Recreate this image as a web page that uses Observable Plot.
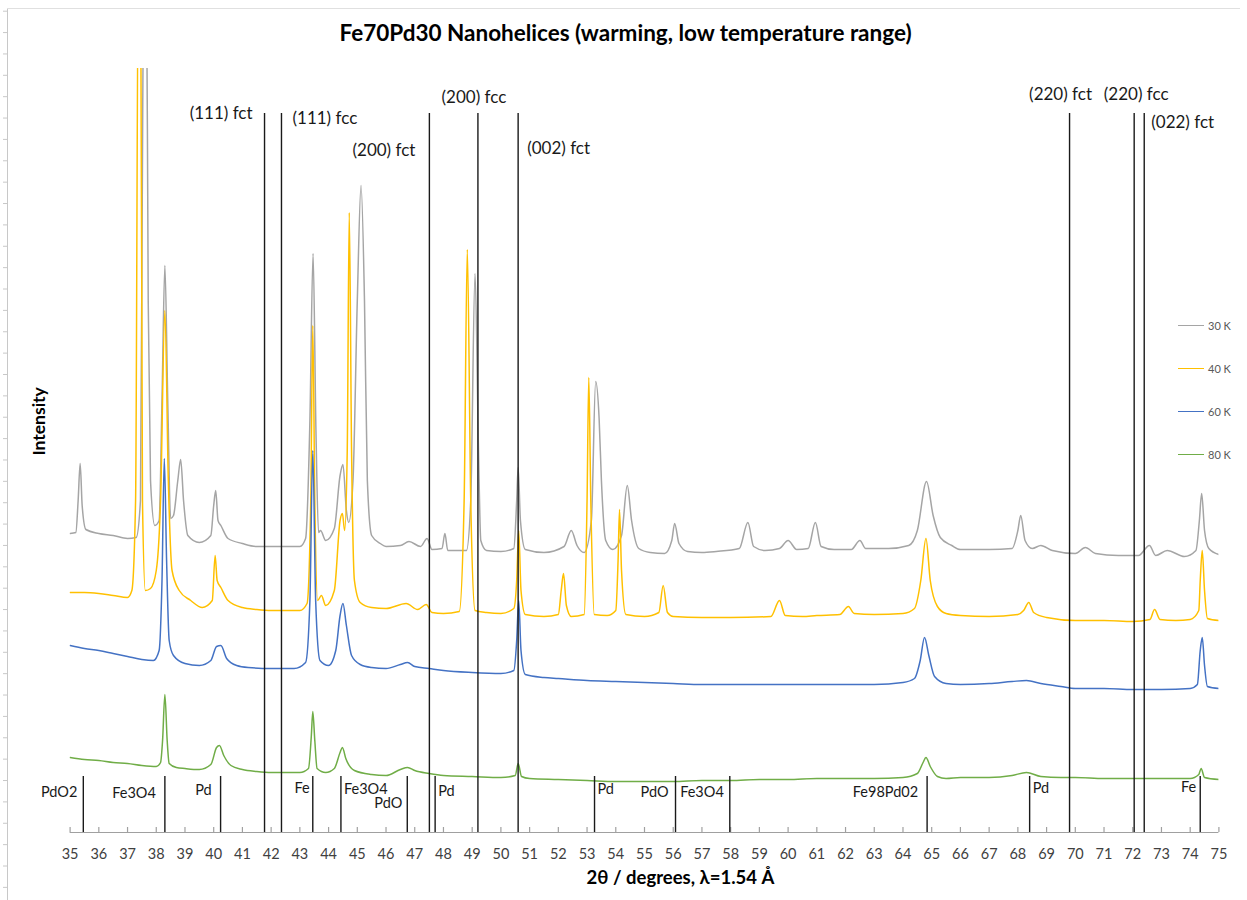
<!DOCTYPE html>
<html>
<head>
<meta charset="utf-8">
<script src="https://cdn.jsdelivr.net/npm/d3@7"></script>
<script src="https://cdn.jsdelivr.net/npm/@observablehq/plot@0.6"></script>
<style>
  body { margin: 0; background: #fff; }
  #chart { position: relative; width: 1247px; height: 900px; font-family: Lato, "Open Sans", sans-serif; }
  .legend { position: absolute; left: 1178px; top: 0; }
  .entry { position: absolute; left: 0; display: flex; align-items: center; white-space: nowrap; font-size: 11px; color: #595959; }
  .entry span.sw { display: inline-block; width: 26px; height: 0; border-top: 1.5px solid; margin-right: 4px; }
</style>
</head>
<body>
<div id="chart"></div>
<script>
// ---------- data ----------
const title = "Fe70Pd30 Nanohelices (warming, low temperature range)";
const xTitle = "2θ / degrees, λ=1.54 Å";
const yTitle = "Intensity";
const seriesNames = ["30 K", "40 K", "60 K", "80 K"];
const seriesColors = ["#A5A5A5", "#FFC000", "#4472C4", "#70AD47"];
const xTicks = [35,36,37,38,39,40,41,42,43,44,45,46,47,48,49,50,51,52,53,54,55,56,57,58,59,60,61,62,63,64,65,66,67,68,69,70,71,72,73,74,75];

// reference reflections (full height lines)
const refPeaks = [41.77, 42.36, 47.51, 49.2, 50.6, 69.8, 72.05, 72.4];
const refLabels = ["(111) fct", "(111) fcc", "(200) fct", "(200) fcc", "(002) fct", "(220) fct", "(220) fcc", "(022) fct"];

// phase markers (short lines at bottom)
const phasePos = [35.46, 38.30, 40.24, 43.45, 44.43, 46.74, 47.71, 53.26, 56.08, 57.97, 64.84, 68.41, 74.35];
const phaseLabels = ["PdO2", "Fe3O4", "Pd", "Fe", "Fe3O4", "PdO", "Pd", "Pd", "PdO", "Fe3O4", "Fe98Pd02", "Pd", "Fe"];

// traces: [2θ, intensity (a.u., offset)]
const k30 = [[35,299],[35.2,300],[35.28,332],[35.35,369],[35.42,327],[35.55,303],[36,299],[36.5,297],[37,294],[37.3,295],[37.45,332],[37.53,732],[37.58,900],[37.65,900],[37.72,532],[37.8,352],[37.95,307],[38.1,312],[38.2,432],[38.3,567],[38.4,432],[38.5,314],[38.6,317],[38.75,352],[38.85,373],[38.95,332],[39.1,297],[39.5,290],[39.9,297],[40.0,327],[40.07,342],[40.15,312],[40.25,307],[40.5,294],[41,289],[41.5,286],[42,286],[43,286],[43.2,294],[43.35,412],[43.46,579],[43.56,402],[43.65,300],[43.72,302],[43.9,292],[44.2,304],[44.4,357],[44.5,368],[44.62,322],[44.7,310],[44.85,352],[45.0,532],[45.13,647],[45.25,532],[45.35,352],[45.5,297],[45.8,289],[46,286],[46.5,287],[46.8,291],[47.2,286],[47.43,294],[47.6,283],[47.95,284],[48.05,299],[48.15,282],[48.8,282],[48.95,332],[49.1,559],[49.22,382],[49.3,292],[49.5,282],[50,281],[50.45,284],[50.55,332],[50.6,365],[50.68,312],[50.85,283],[51.5,280],[52.2,286],[52.45,302],[52.65,287],[52.9,280],[53.15,312],[53.3,451],[53.42,414],[53.5,352],[53.65,292],[53.9,283],[54.2,297],[54.4,347],[54.55,312],[54.8,284],[55.2,280],[55.7,279],[55.95,292],[56.05,309],[56.2,289],[56.5,281],[57,280],[57.5,281],[58.3,284],[58.6,310],[58.8,286],[59.2,282],[59.7,284],[60.0,292],[60.3,283],[60.7,284],[60.95,310],[61.15,286],[61.6,283],[62.2,283],[62.5,292],[62.7,284],[63.5,284],[64.2,287],[64.5,302],[64.82,351],[65.05,317],[65.3,295],[65.7,287],[66,283],[67,283],[67.8,284],[68.0,302],[68.1,317],[68.25,292],[68.5,284],[68.8,287],[69.2,282],[70,279],[70.35,285],[70.7,279],[71.5,277],[72.2,277],[72.58,287],[72.8,277],[73.2,282],[73.8,276],[74.2,282],[74.32,312],[74.4,339],[74.5,302],[74.65,284],[75,278]];

const k40 = [[35,240],[35.5,240],[36,239],[36.5,237],[37,235],[37.15,242],[37.28,332],[37.38,900],[37.45,900],[37.52,332],[37.62,242],[37.8,244],[38.0,262],[38.15,332],[38.3,522],[38.42,352],[38.55,262],[38.8,242],[39.2,232],[39.6,225],[39.95,232],[40.05,277],[40.12,252],[40.25,245],[40.5,232],[41,225],[41.5,223],[42,222],[43,222],[43.25,229],[43.38,332],[43.45,507],[43.52,332],[43.62,232],[43.75,237],[43.9,227],[44.2,242],[44.4,312],[44.48,319],[44.56,302],[44.65,382],[44.72,620],[44.8,382],[44.9,252],[45.1,230],[45.5,225],[46,224],[46.7,229],[47.1,223],[47.4,228],[47.6,220],[48,219],[48.55,221],[48.72,332],[48.83,583],[48.95,332],[49.1,222],[49.5,220],[50,219],[50.45,224],[50.55,252],[50.62,302],[50.7,242],[50.85,218],[51.5,216],[52.0,218],[52.1,242],[52.18,259],[52.28,227],[52.45,216],[52.9,218],[53.0,332],[53.06,455],[53.13,332],[53.25,218],[53.7,217],[54.0,222],[54.08,272],[54.13,323],[54.2,262],[54.35,218],[55,216],[55.5,220],[55.65,247],[55.8,220],[56,216],[57,215],[58,215],[59.4,216],[59.7,232],[59.9,217],[60.5,216],[61,217],[61.8,218],[62.1,226],[62.3,219],[63,218],[64,219],[64.4,224],[64.62,252],[64.8,294],[64.95,252],[65.2,226],[65.5,219],[66,217],[67,216],[68.0,218],[68.2,222],[68.38,230],[68.55,220],[69,215],[70,212],[71,212],[72,211],[72.6,213],[72.76,223],[72.95,213],[73.5,212],[74,213],[74.3,222],[74.35,252],[74.42,282],[74.5,242],[74.6,214],[75,212]];

const k60 = [[35,187],[35.5,184],[36,182],[36.5,179],[37,176],[37.5,173],[37.9,172],[38.1,182],[38.2,252],[38.28,374],[38.36,272],[38.45,192],[38.6,177],[39.0,169],[39.5,167],[39.9,172],[40.1,186],[40.25,187],[40.45,174],[40.8,167],[41.2,165],[42,164],[42.8,164],[43.2,170],[43.35,232],[43.45,382],[43.55,232],[43.7,172],[44.0,167],[44.25,182],[44.4,217],[44.5,229],[44.62,207],[44.8,177],[45.1,168],[45.5,165],[46,164],[46.5,168],[46.75,170],[47.0,166],[47.5,164],[48,162],[49,160],[50,159],[50.45,162],[50.55,192],[50.62,232],[50.7,182],[50.85,158],[51.5,155],[52,154],[53,152],[54,151],[55,150],[56,149],[57,148],[58,148],[59,148],[60,148],[61,148],[62,148],[63,148],[64,150],[64.4,154],[64.6,172],[64.75,195],[64.9,177],[65.1,156],[65.5,149],[66,148],[67,149],[67.8,151],[68.3,152],[68.8,149],[69.5,146],[70,144],[71,144],[72,143],[73,143],[74,144],[74.25,148],[74.35,182],[74.42,195],[74.5,167],[74.6,146],[75,144]];

const k80 = [[35,75],[35.5,73],[36,72],[36.5,70],[37,69],[37.5,67],[38.0,66],[38.15,70],[38.22,92],[38.3,138],[38.38,92],[38.45,69],[38.7,65],[39.0,64],[39.5,63],[39.9,68],[40.1,85],[40.2,87],[40.35,77],[40.6,67],[41,63],[41.5,61],[42,60],[42.5,60],[43,60],[43.3,64],[43.4,97],[43.45,121],[43.52,92],[43.6,64],[43.9,60],[44.2,64],[44.4,80],[44.48,85],[44.6,74],[44.9,62],[45.5,58],[46,57],[46.5,63],[46.75,65],[47.0,62],[47.5,59],[48,57],[49,56],[50,55],[50.5,57],[50.6,69],[50.72,56],[51,54],[52,53],[53,52],[54,51],[55,51],[56,51],[57,52],[58,52],[59,53],[60,53],[61,54],[62,54],[63,54],[64,55],[64.5,59],[64.7,70],[64.8,75],[64.95,66],[65.2,56],[65.5,54],[66,55],[67,55],[67.8,57],[68.3,60],[68.8,56],[69.5,55],[70,55],[71,54],[72,54],[73,54],[74,54],[74.3,58],[74.38,64],[74.5,55],[75,53]];

// ---------- layout (pixels) ----------
const W = 1247, H = 900;
const M = {left: 69.6, right: 28.6, top: 68, bottom: 68};
const refLayout = [
  {anchor: "end", dx: -12, y: 113},
  {anchor: "start", dx: 11, y: 118},
  {anchor: "end", dx: -14, y: 150},
  {anchor: "middle", dx: -4, y: 97},
  {anchor: "start", dx: 9, y: 148},
  {anchor: "middle", dx: -9, y: 94},
  {anchor: "middle", dx: 2, y: 94},
  {anchor: "start", dx: 7, y: 122}
];
const phaseLayout = [
  {anchor: "end", dx: -6, y: 792},
  {anchor: "end", dx: -9, y: 793},
  {anchor: "end", dx: -9, y: 790},
  {anchor: "end", dx: -3, y: 788},
  {anchor: "start", dx: 3, y: 789},
  {anchor: "end", dx: -5, y: 803},
  {anchor: "start", dx: 3, y: 791},
  {anchor: "start", dx: 3, y: 789},
  {anchor: "end", dx: -7, y: 792},
  {anchor: "end", dx: -6, y: 792},
  {anchor: "end", dx: -9, y: 792},
  {anchor: "start", dx: 3, y: 788},
  {anchor: "end", dx: -4, y: 787}
];

const traces = [k30, k40, k60, k80];
const rows = seriesNames.flatMap((s, i) => traces[i].map(([t, v]) => ({t, v, s})));

// decorative outer axis (left line with ticks, top line), in scale units (1 unit = 1 px vertically)
const pxPerDeg = (W - M.left - M.right) / 40;
const xOuter = 35 - (M.left - 7) / pxPerDeg;
const xOuterTick = 35 - (M.left - 3) / pxPerDeg;
const xOuterRight = 75 + (M.right - 7) / pxPerDeg;
const yTopLine = (H - M.bottom) - 8;
const leftTicks = d3.range(0, 42).map(k => (H - M.bottom) - (10.7 + 21.37 * k));

const font = "Lato, 'Open Sans', sans-serif";
const cx = M.left + (W - M.left - M.right) / 2;
const cy = M.top + (H - M.top - M.bottom) / 2;

const marks = [
  // decorative outer frame
  Plot.ruleX([xOuter], {y1: yTopLine, y2: -(M.bottom), stroke: "#c8c8c8", strokeWidth: 1}),
  Plot.ruleY(leftTicks, {x1: xOuterTick, x2: xOuter, stroke: "#c8c8c8", strokeWidth: 1}),
  Plot.ruleY([yTopLine], {x1: xOuter, x2: xOuterRight, stroke: "#e0e0e0", strokeWidth: 1}),
  // x axis line and inward ticks
  Plot.ruleY([0], {stroke: "#a0a0a0", strokeWidth: 1.2}),
  Plot.ruleX(xTicks, {insetTop: (H - M.top - M.bottom) - 5, stroke: "#a0a0a0", strokeWidth: 1.2}),
  // traces
  Plot.line(rows, {x: "t", y: "v", z: "s", stroke: "s", strokeWidth: 1.5, curve: "monotone-x", clip: true}),
  // reference lines
  Plot.ruleX(refPeaks, {insetTop: 113 - M.top, stroke: "#1a1a1a", strokeWidth: 1.4}),
  // phase markers
  Plot.ruleX(phasePos, {insetTop: 776 - M.top, stroke: "#1a1a1a", strokeWidth: 1.4}),
  // reference labels
  ...refLabels.map((lab, i) => Plot.text([lab], {
    x: refPeaks[i], frameAnchor: "top", dy: refLayout[i].y - M.top, dx: refLayout[i].dx,
    textAnchor: refLayout[i].anchor, lineAnchor: "middle", fontSize: 17, fill: "#1a1a1a", fontFamily: font
  })),
  // phase labels
  ...phaseLabels.map((lab, i) => Plot.text([lab], {
    x: phasePos[i], frameAnchor: "top", dy: phaseLayout[i].y - M.top, dx: phaseLayout[i].dx,
    textAnchor: phaseLayout[i].anchor, lineAnchor: "middle", fontSize: 14.5, fill: "#1a1a1a", fontFamily: font
  })),
  // titles
  Plot.text([title], {frameAnchor: "top", dx: 625 - cx, dy: 33 - M.top, lineAnchor: "middle",
    fontSize: 22.5, fontWeight: "bold", fill: "#000", fontFamily: font}),
  Plot.text([xTitle], {frameAnchor: "bottom", dx: 680 - cx, dy: 878 - (H - M.bottom), lineAnchor: "middle",
    fontSize: 18.5, fontWeight: "bold", fill: "#000", fontFamily: font}),
  Plot.text([yTitle], {frameAnchor: "left", rotate: -90, dx: 39 - M.left, dy: 455 - cy, lineAnchor: "middle",
    fontSize: 17.5, fontWeight: "bold", fill: "#000", fontFamily: font})
];

const chart = Plot.plot({
  width: W,
  height: H,
  marginLeft: M.left,
  marginRight: M.right,
  marginTop: M.top,
  marginBottom: M.bottom,
  style: {fontFamily: font, fontSize: "14.5px", color: "#404040", background: "#fff"},
  x: {domain: [35, 75], ticks: xTicks, tickSize: 0, tickPadding: 16, tickFormat: d => String(d), label: null},
  y: {domain: [0, H - M.top - M.bottom], axis: null},
  color: {domain: seriesNames, range: seriesColors},
  marks
});

const root = document.getElementById("chart");
root.appendChild(chart);

// legend
const legend = document.createElement("div");
legend.className = "legend";
seriesNames.forEach((name, i) => {
  const e = document.createElement("div");
  e.className = "entry";
  e.style.top = (325 + i * 43 - 8) + "px";
  e.style.height = "16px";
  const sw = document.createElement("span");
  sw.className = "sw";
  sw.style.borderTopColor = seriesColors[i];
  e.appendChild(sw);
  const t = document.createElement("span");
  t.textContent = name;
  e.appendChild(t);
  legend.appendChild(e);
});
root.appendChild(legend);
</script>
</body>
</html>
